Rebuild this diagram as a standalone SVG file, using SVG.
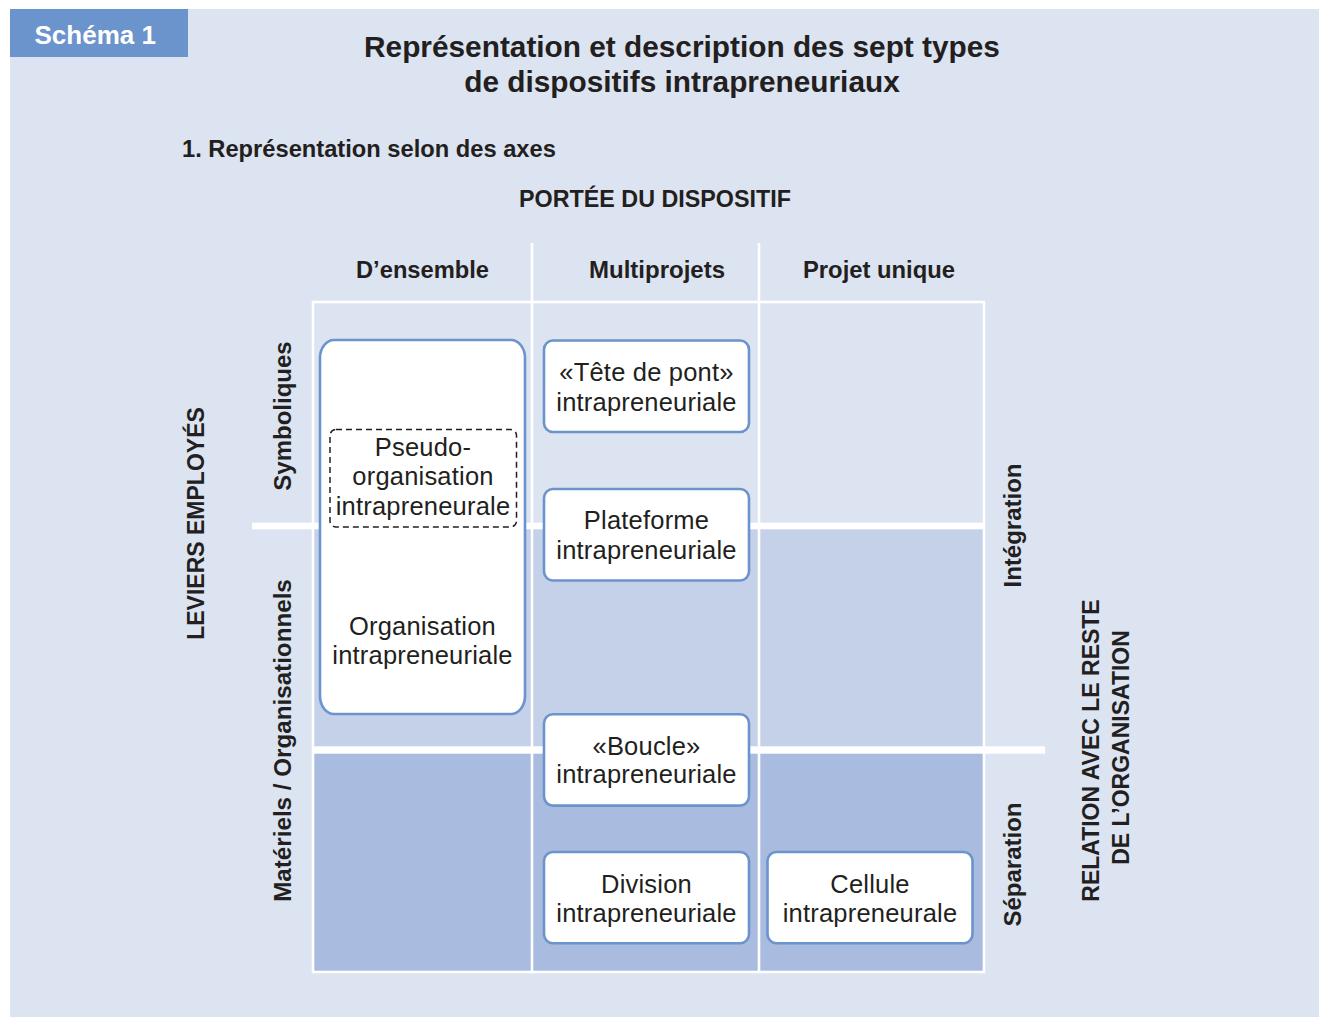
<svg xmlns="http://www.w3.org/2000/svg" width="1319" height="1017" viewBox="0 0 1319 1017">
  <style>
    .bold { font-family: "Liberation Sans", Arial, sans-serif; font-weight: bold; fill: #231f20; }
    .node-text { font-family: "Liberation Sans", Arial, sans-serif; font-size: 25.5px; letter-spacing: 0.2px; fill: #231f20; text-anchor: middle; }
    .box { fill: #ffffff; stroke: #6b93cc; stroke-width: 2.6; }
    .grid { stroke: #ffffff; stroke-width: 2.6; fill: none; }
    .mid { text-anchor: middle; }
  </style>
  <rect x="0" y="0" width="1319" height="1017" fill="#ffffff"/>
  <rect x="10" y="9" width="1309" height="1008" fill="#dce3f1"/>

  <g id="header">
    <rect x="10" y="9" width="178" height="48" fill="#6b93cc"/>
    <text x="34.5" y="44" class="bold" style="font-size:26px; fill:#ffffff">Schéma 1</text>
    <text x="682" y="57" class="bold mid" style="font-size:29.8px">Représentation et description des sept types</text>
    <text x="682" y="92" class="bold mid" style="font-size:29.8px">de dispositifs intrapreneuriaux</text>
    <text x="182" y="157" class="bold" style="font-size:23.7px">1. Représentation selon des axes</text>
    <text x="655" y="207" class="bold mid" style="font-size:23.3px">PORTÉE DU DISPOSITIF</text>
  </g>

  <g id="grid">
    <rect x="313" y="526" width="671" height="224" fill="#c5d0e9"/>
    <rect x="313" y="750" width="671" height="222" fill="#a9bbdf"/>
    <rect x="313" y="302" width="671" height="670" class="grid"/>
    <line x1="532" y1="243" x2="532" y2="972" class="grid"/>
    <line x1="759" y1="243" x2="759" y2="972" class="grid"/>
    <rect x="252" y="522.7" width="732" height="6.6" fill="#ffffff"/>
    <rect x="313" y="746.3" width="732" height="7.4" fill="#ffffff"/>
  </g>

  <g id="axis-labels">
    <text x="422.5" y="278" class="bold mid" style="font-size:23.7px">D’ensemble</text>
    <text x="657" y="278" class="bold mid" style="font-size:24px">Multiprojets</text>
    <text x="879" y="278" class="bold mid" style="font-size:23.8px">Projet unique</text>
    <text transform="translate(204,523.5) rotate(-90)" class="bold mid" style="font-size:23px">LEVIERS EMPLOYÉS</text>
    <text transform="translate(291,416) rotate(-90)" class="bold mid" style="font-size:24px">Symboliques</text>
    <text transform="translate(291,740.5) rotate(-90)" class="bold mid" style="font-size:24.2px">Matériels / Organisationnels</text>
    <text transform="translate(1020.5,525.5) rotate(-90)" class="bold mid" style="font-size:24px">Intégration</text>
    <text transform="translate(1020.5,864.5) rotate(-90)" class="bold mid" style="font-size:24px">Séparation</text>
    <text transform="translate(1099,750.5) rotate(-90)" class="bold mid" style="font-size:23px">RELATION AVEC LE RESTE</text>
    <text transform="translate(1129,747.5) rotate(-90)" class="bold mid" style="font-size:23px">DE L’ORGANISATION</text>
  </g>

  <g id="connectors"></g>

  <g id="node-organisation">
    <rect x="320" y="340" width="205" height="374" rx="14" ry="18" class="box"/>
    <text x="422.5" y="635" class="node-text">Organisation</text>
    <text x="422.5" y="664" class="node-text">intrapreneuriale</text>
  </g>

  <g id="node-pseudo">
    <rect x="330" y="429.5" width="186.5" height="97.5" rx="6" ry="6" fill="none" stroke="#231f20" stroke-width="1.5" stroke-dasharray="6 4"/>
    <text x="423" y="456" class="node-text">Pseudo-</text>
    <text x="423" y="485" class="node-text">organisation</text>
    <text x="423" y="515" class="node-text">intrapreneurale</text>
  </g>

  <g id="node-tete-de-pont">
    <rect x="544" y="340.5" width="205" height="91.5" rx="9" class="box"/>
    <text x="646.5" y="381" class="node-text">«Tête de pont»</text>
    <text x="646.5" y="411" class="node-text">intrapreneuriale</text>
  </g>

  <g id="node-plateforme">
    <rect x="544" y="489" width="205" height="91.5" rx="9" class="box"/>
    <text x="646.5" y="529" class="node-text">Plateforme</text>
    <text x="646.5" y="559" class="node-text">intrapreneuriale</text>
  </g>

  <g id="node-boucle">
    <rect x="544" y="714.3" width="205" height="91.3" rx="9" class="box"/>
    <text x="646.5" y="754.5" class="node-text">«Boucle»</text>
    <text x="646.5" y="783" class="node-text">intrapreneuriale</text>
  </g>

  <g id="node-division">
    <rect x="544" y="852" width="205" height="91.3" rx="9" class="box"/>
    <text x="646.5" y="892.5" class="node-text">Division</text>
    <text x="646.5" y="922" class="node-text">intrapreneuriale</text>
  </g>

  <g id="node-cellule">
    <rect x="767.5" y="852" width="205" height="91.3" rx="9" class="box"/>
    <text x="870" y="892.5" class="node-text">Cellule</text>
    <text x="870" y="922" class="node-text">intrapreneurale</text>
  </g>
</svg>
